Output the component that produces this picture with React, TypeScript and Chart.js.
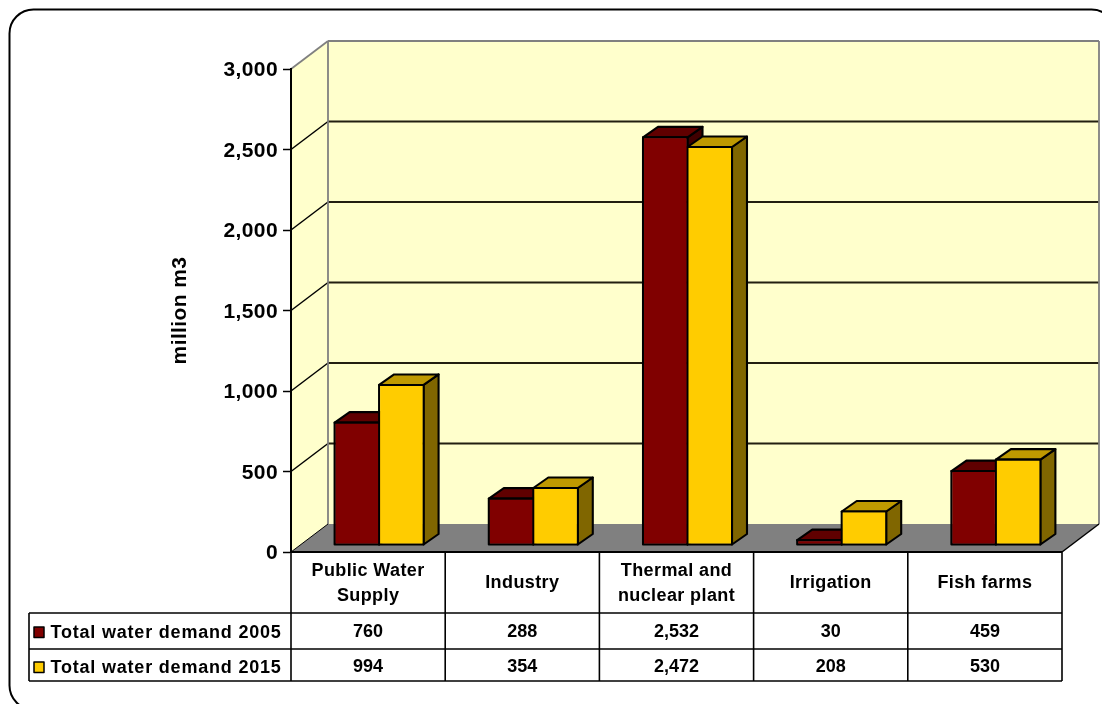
import React, { useEffect, useRef } from "react";
import { Chart, registerables } from "chart.js";

Chart.register(...registerables);

const categories = [["Public Water", "Supply"], "Industry", ["Thermal and", "nuclear plant"], "Irrigation", "Fish farms"];
const series2005 = [760, 288, 2532, 30, 459];
const series2015 = [994, 354, 2472, 208, 530];
const seriesNames = ["Total water demand 2005", "Total water demand 2015"];
const frontColors = ["#800000", "#FFCC00"];
const topColors = ["#600000", "#BF9900"];
const sideColors = ["#400000", "#806600"];
const yTicks = [0, 500, 1000, 1500, 2000, 2500, 3000];

const WALL_DX = 37;
const WALL_DY = 28;
const BAR_SHIFT_X = 11;
const BAR_SHIFT_Y = 7;
const BAR_DX = 15;
const BAR_DY = 10.5;
const ROW_LINES = [613, 649, 681];
const ROW_CENTERS = [632.5, 667.5];
const TABLE_LEFT = 29;
const FONT = "Liberation Sans, Arial, sans-serif";
const fmt = (v: number) => v.toLocaleString("en-US");

function poly(ctx: any, pts: number[][], fill: string, stroke?: string, lw = 1.5) {
  ctx.beginPath();
  pts.forEach((p, i) => (i ? ctx.lineTo(p[0], p[1]) : ctx.moveTo(p[0], p[1])));
  ctx.closePath();
  ctx.fillStyle = fill;
  ctx.fill();
  if (stroke) {
    ctx.strokeStyle = stroke;
    ctx.lineWidth = lw;
    ctx.lineJoin = "round";
    ctx.stroke();
  }
}
function line(ctx: any, x1: number, y1: number, x2: number, y2: number, color: string, lw: number) {
  ctx.beginPath();
  ctx.moveTo(x1, y1);
  ctx.lineTo(x2, y2);
  ctx.strokeStyle = color;
  ctx.lineWidth = lw;
  ctx.stroke();
}

const plugin3d = {
  id: "plugin3d",
  beforeDraw(chart: any) {
    const { ctx, chartArea: a, scales } = chart;
    const y = scales.y;
    ctx.save();
    ctx.fillStyle = "#fff";
    ctx.fillRect(0, 0, chart.width, chart.height);
    ctx.beginPath();
    ctx.roundRect(9.5, 9.5, 1106, 700, 24);
    ctx.strokeStyle = "#000";
    ctx.lineWidth = 2;
    ctx.stroke();

    const L = a.left, R = a.right, T = a.top, B = a.bottom;
    const dx = WALL_DX, dy = WALL_DY;
    poly(ctx, [[L, B], [L, T], [L + dx, T - dy], [L + dx, B - dy]], "#FFFFCC");
    poly(ctx, [[L + dx, T - dy], [R + dx, T - dy], [R + dx, B - dy], [L + dx, B - dy]], "#FFFFCC");
    poly(ctx, [[L, B], [R, B], [R + dx, B - dy], [L + dx, B - dy]], "#808080");

    yTicks.forEach((v) => {
      const p = y.getPixelForValue(v);
      if (v > 0 && v < 3000) {
        line(ctx, L, p, L + dx, p - dy, "#000", 1.5);
        line(ctx, L + dx, p - dy, R + dx, p - dy, "#221f10", 1.8);
      }
    });
    line(ctx, L, T, L + dx, T - dy, "#808080", 1.8);
    line(ctx, L + dx, T - dy, R + dx, T - dy, "#808080", 1.8);
    line(ctx, L + dx, T - dy, L + dx, B - dy, "#808080", 1.8);
    line(ctx, R + dx, T - dy, R + dx, B - dy, "#808080", 1.8);
    line(ctx, L, B, L + dx, B - dy, "#000", 1);
    line(ctx, R, B, R + dx, B - dy, "#000", 1.5);
    ctx.restore();
    ctx.letterSpacing = "0.4px";
  },
  beforeDatasetsDraw(chart: any) {
    const { ctx } = chart;
    ctx.save();
    ctx.translate(BAR_SHIFT_X, -BAR_SHIFT_Y);
    const n = categories.length;
    for (let i = 0; i < n; i++) {
      [0, 1].forEach((d) => {
        const el = chart.getDatasetMeta(d).data[i];
        const { x, y, base, width } = el.getProps(["x", "y", "base", "width"], true);
        const l = x - width / 2;
        const r = x + width / 2;
        poly(ctx, [[r, y], [r + BAR_DX, y - BAR_DY], [r + BAR_DX, base - BAR_DY], [r, base]], sideColors[d], "#000", 2.1);
        poly(ctx, [[l, y], [l + BAR_DX, y - BAR_DY], [r + BAR_DX, y - BAR_DY], [r, y]], topColors[d], "#000", 2.1);
        ctx.strokeStyle = "#000";
        ctx.lineWidth = 2.1;
        ctx.strokeRect(l, y, r - l, base - y);
      });
    }
  },
  afterDatasetsDraw(chart: any) {
    chart.ctx.restore();
  },
  afterDraw(chart: any) {
    const { ctx, chartArea: a, scales } = chart;
    const x = scales.x;
    ctx.save();
    const L = a.left, R = a.right, B = a.bottom;
    const lastRow = ROW_LINES[ROW_LINES.length - 1];
    line(ctx, L, B, R, B, "#000", 2);
    line(ctx, TABLE_LEFT, ROW_LINES[0], R, ROW_LINES[0], "#000", 1.6);
    line(ctx, TABLE_LEFT, ROW_LINES[1], R, ROW_LINES[1], "#000", 1.6);
    line(ctx, TABLE_LEFT, ROW_LINES[2], R, ROW_LINES[2], "#000", 1.6);
    line(ctx, TABLE_LEFT, ROW_LINES[0], TABLE_LEFT, lastRow, "#000", 1.6);
    for (let i = 0; i <= categories.length; i++) {
      const p = x.getPixelForValue(i - 0.5);
      line(ctx, p, B, p, lastRow, "#000", 1.6);
    }
    ctx.font = `bold 18px ${FONT}`;
    ctx.textBaseline = "middle";
    [series2005, series2015].forEach((vals, r) => {
      const cy = ROW_CENTERS[r];
      poly(ctx, [[34, cy - 5.5], [44, cy - 5.5], [44, cy + 5], [34, cy + 5]], frontColors[r], "#000", 1.5);
      ctx.fillStyle = "#000";
      ctx.textAlign = "left";
      ctx.letterSpacing = "0.8px";
      ctx.fillText(seriesNames[r], 50.5, cy + 0.5);
      ctx.textAlign = "center";
      ctx.letterSpacing = "0px";
      vals.forEach((v, i) => ctx.fillText(fmt(v), x.getPixelForTick(i), cy));
    });
    ctx.restore();
  },
};

export default function App() {
  const ref = useRef<HTMLCanvasElement>(null);
  useEffect(() => {
    const chart = new Chart(ref.current as HTMLCanvasElement, {
      type: "bar",
      data: {
        labels: categories as any,
        datasets: [
          { label: seriesNames[0], data: series2005, backgroundColor: frontColors[0] },
          { label: seriesNames[1], data: series2015, backgroundColor: frontColors[1] },
        ].map((d) => ({
          ...d,
          borderColor: "#000",
          borderWidth: 1,
          borderSkipped: false,
          categoryPercentage: 0.577,
          barPercentage: 1,
          clip: false,
        })) as any,
      },
      options: {
        responsive: false,
        animation: false,
        layout: { autoPadding: false, padding: { left: 168, top: 69, right: 40, bottom: 92 } },
        plugins: { legend: { display: false }, tooltip: { enabled: false } },
        scales: {
          x: {
            afterFit: (s: any) => { s.height = 60; },
            grid: { display: false },
            border: { display: false },
            ticks: {
              autoSkip: false,
              maxRotation: 0,
              minRotation: 0,
              crossAlign: "center",
              padding: 11,
              color: "#000",
              font: { family: FONT, weight: "bold", size: 18, lineHeight: 1.39 },
            },
          },
          y: {
            min: 0,
            max: 3000,
            afterFit: (s: any) => { s.width = 123; },
            grid: { drawOnChartArea: false, drawTicks: true, tickLength: 8, tickWidth: 1.5, tickColor: "#000" },
            border: { display: true, color: "#000", width: 2 },
            title: {
              display: true,
              text: "million m3",
              color: "#000",
              font: { family: FONT, weight: "bold", size: 21 },
              padding: 0,
            },
            ticks: {
              stepSize: 500,
              padding: 5,
              labelOffset: 1.5,
              color: "#000",
              font: { family: FONT, weight: "bold", size: 21 },
              callback: (v: any) => fmt(Number(v)),
            },
          },
        },
      } as any,
      plugins: [plugin3d],
    });
    return () => chart.destroy();
  }, []);
  return (
    <canvas
      ref={ref}
      width={1102}
      height={704}
      style={{ position: "absolute", left: 0, top: 0, display: "block", width: 1102, height: 704 }}
    />
  );
}
